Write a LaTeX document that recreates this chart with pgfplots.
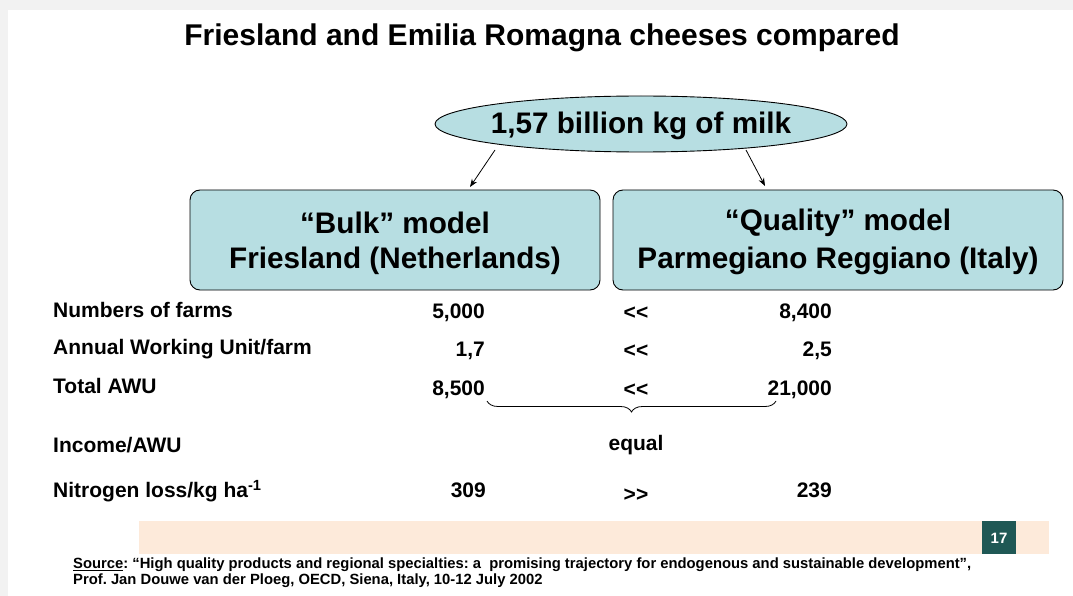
\documentclass[border=0pt]{standalone}
\usepackage{pgfplots}
\pgfplotsset{compat=1.18}
\usepackage{pgfplotstable}
\usepackage{fontspec}
\setmainfont{Liberation Sans}[Ligatures=NoCommon]
\usetikzlibrary{decorations.pathreplacing,shapes.geometric,arrows.meta}
\definecolor{boxblue}{HTML}{B7DEE2}
\definecolor{peach}{HTML}{FDEADA}
\definecolor{darkteal}{HTML}{1F5855}
\definecolor{bggray}{HTML}{F2F2F2}
\frenchspacing

\pgfplotstableread{
x y label
485 313 5,000
485 351 1,7
485 390 8,500
486 490 309
832 313 8,400
832 351 2,5
832 390 21,000
832 490 239
}\valtable

\begin{document}
\begin{tikzpicture}
\begin{axis}[
  width=1073pt, height=596pt, scale only axis,
  xmin=0, xmax=1073, ymin=0, ymax=596, y dir=reverse,
  hide axis, clip=false,
]
% background
\fill[bggray] (axis cs:0,0) rectangle (axis cs:1073,596);
\fill[white] (axis cs:8,10) rectangle (axis cs:1073,596);
% title
\node[font=\fontsize{30}{33}\selectfont\bfseries] at (axis cs:542,38) {Friesland and Emilia Romagna cheeses compared};
% ellipse
\draw[fill=boxblue, line width=0.9pt] (axis cs:641,124) ellipse [x radius=206pt, y radius=28pt];
\node[font=\fontsize{29.7}{32}\selectfont\bfseries] at (axis cs:641,126) {1,57 billion kg of milk};
% arrows
\draw[-{Stealth[length=8pt,width=6pt]}, line width=0.8pt] (axis cs:495,150) -- (axis cs:470,187);
\draw[-{Stealth[length=8pt,width=6pt]}, line width=0.8pt] (axis cs:746,150) -- (axis cs:765,186);
% boxes
\draw[fill=boxblue, rounded corners=10pt, line width=0.9pt] (axis cs:190,190) rectangle (axis cs:600,290);
\draw[fill=boxblue, rounded corners=10pt, line width=0.9pt] (axis cs:613,190) rectangle (axis cs:1063,290);
\node[font=\fontsize{29.7}{32}\selectfont\bfseries] at (axis cs:395,223) {“Bulk” model};
\node[font=\fontsize{29.7}{32}\selectfont\bfseries] at (axis cs:395,261) {Friesland (Netherlands)};
\node[font=\fontsize{29.7}{32}\selectfont\bfseries] at (axis cs:838,223) {“Quality” model};
\node[font=\fontsize{29.7}{32}\selectfont\bfseries] at (axis cs:838,261) {Parmegiano Reggiano (Italy)};
% row labels
\begin{scope}[every node/.style={anchor=west, inner sep=0pt, font=\fontsize{21}{24}\selectfont\bfseries}]
\node at (axis cs:53,310) {Numbers of farms};
\node at (axis cs:53,349) {Annual Working Unit/farm};
\node at (axis cs:53,386) {Total AWU};
\node at (axis cs:53,445) {Income/AWU};
\node at (axis cs:53,491) {Nitrogen loss/kg ha\textsuperscript{-1}};
\end{scope}
% values
\addplot[only marks, mark=none, nodes near coords, point meta=explicit symbolic,
  nodes near coords style={anchor=east, inner sep=0pt, font=\fontsize{21}{24}\selectfont\bfseries}]
  table[x=x, y=y, meta=label] {\valtable};
% comparisons
\begin{scope}[every node/.style={font=\fontsize{21}{24}\selectfont\bfseries}]
\node at (axis cs:636,313) {{<}{<}};
\node at (axis cs:636,351) {{<}{<}};
\node at (axis cs:636,390) {{<}{<}};
\node at (axis cs:636,445) {equal};
\node at (axis cs:636,495) {{>}{>}};
\end{scope}
% brace
\draw[decorate, decoration={brace, mirror, amplitude=11pt}, line width=0.8pt] (axis cs:487,401) -- (axis cs:776,401);
% footer band
\fill[peach] (axis cs:139,521) rectangle (axis cs:1049,554);
\fill[darkteal] (axis cs:982,521) rectangle (axis cs:1016,554);
\node[text=white, font=\fontsize{15}{17}\selectfont\bfseries] at (axis cs:999,538) {17};
% source
\node[anchor=west, inner sep=0pt, font=\fontsize{14.8}{16}\selectfont\bfseries] at (axis cs:73,565) {\underline{Source}: “High quality products and regional specialties: a\ \ promising trajectory for endogenous and sustainable development”,};
\node[anchor=west, inner sep=0pt, font=\fontsize{14.8}{16}\selectfont\bfseries] at (axis cs:73,581) {Prof. Jan Douwe van der Ploeg, OECD, Siena, Italy, 10-12 July 2002};
\end{axis}
\end{tikzpicture}
\end{document}
